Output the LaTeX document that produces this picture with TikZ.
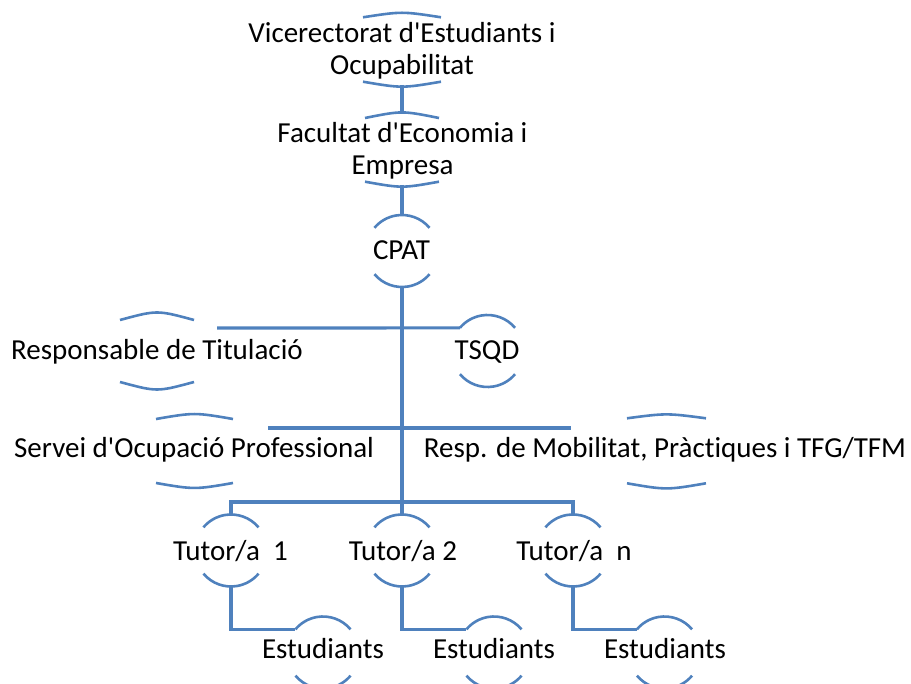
\documentclass[tikz,border=0pt]{standalone}
\usepackage{fontspec}
\setmainfont{Carlito}[Ligatures={TeXOff,NoCommon}]
\usetikzlibrary{calc}
\definecolor{ob}{HTML}{4F81BD}
\tikzset{
  lbl/.style={anchor=base, inner sep=0pt, font=\fontsize{29}{32}\selectfont, align=center},
  arcl/.style={draw=ob, line width=2.6pt},
  conn/.style={draw=ob, line width=3.2pt},
}
% round node outline: top and bottom arcs of a circle of radius 36 around a named coordinate
\newcommand\roundpair[1]{%
  \draw[arcl] (#1) ++(-40:36) arc[start angle=-40,end angle=-140,radius=36];
  \draw[arcl] (#1) ++(140:36) arc[start angle=140,end angle=40,radius=36];}
% flat node outline: cx, half width, top end y, top peak y, bottom end y, bottom peak y
\newcommand\flatpair[6]{%
  \draw[arcl] ({#1-#2},#3) .. controls (#1,{2*#4-#3}) .. ({#1+#2},#3);
  \draw[arcl] ({#1-#2},#5) .. controls (#1,{2*#6-#5}) .. ({#1+#2},#5);}
\begin{document}
\begin{tikzpicture}[x=1pt,y=-1pt]
\useasboundingbox (0,0) rectangle (911,684);
% centres of round nodes
\coordinate (cpatc) at (402,251);
\coordinate (tsqdc) at (487.5,351);
\coordinate (tut1c) at (231,550.5);
\coordinate (tut2c) at (402,550.5);
\coordinate (tutnc) at (573,550.5);
\coordinate (est1c) at (323,652.5);
\coordinate (est2c) at (494,652.5);
\coordinate (est3c) at (664.5,652.5);
% outlines
\flatpair{402}{39}{17.3}{14.3}{81.7}{85}
\flatpair{402}{37}{118}{114.3}{181.7}{185}
\flatpair{157}{37}{320}{315}{382}{387}
\flatpair{194.5}{38.5}{419}{415.7}{483}{486.3}
\flatpair{666.5}{39.5}{418.3}{415.7}{483.3}{486.7}
\roundpair{cpatc}
\roundpair{tsqdc}
\roundpair{tut1c}
\roundpair{tut2c}
\roundpair{tutnc}
\roundpair{est1c}
\roundpair{est2c}
\roundpair{est3c}
% connector end points
\coordinate (viceb) at (402,85);
\coordinate (fact) at (402,114.3);
\coordinate (facb) at (402,185);
\coordinate (cpatt) at ($(cpatc)+(0,-36)$);
\coordinate (cpatb) at ($(cpatc)+(0,36)$);
\coordinate (respr) at (217,328);
\coordinate (tsqdl) at ($(tsqdc)+(-140:36)$);
\coordinate (servr) at (268,428);
\coordinate (mobl) at (571,428);
\coordinate (j3) at (402,502);
\coordinate (tut1t) at ($(tut1c)+(0,-36)$);
\coordinate (tut2t) at ($(tut2c)+(0,-36)$);
\coordinate (tutnt) at ($(tutnc)+(0,-36)$);
\coordinate (tut1b) at ($(tut1c)+(0,36)$);
\coordinate (tut2b) at ($(tut2c)+(0,36)$);
\coordinate (tutnb) at ($(tutnc)+(0,36)$);
\coordinate (est1l) at ($(est1c)+(-140:36)$);
\coordinate (est2l) at ($(est2c)+(-140:36)$);
\coordinate (est3l) at ($(est3c)+(-140:36)$);
% connectors
\draw[conn] (viceb) -- (fact);
\draw[conn] (facb) -- (cpatt);
\draw[conn] (cpatb) -- (j3);
\draw[conn] (respr) -- (tsqdl);
\draw[conn] (servr) -- (mobl);
\draw[conn] (tut1t) |- (j3) -| (tutnt);
\draw[conn] (j3) -- (tut2t);
\draw[conn] (tut1b) |- (est1l);
\draw[conn] (tut2b) |- (est2l);
\draw[conn] (tutnb) |- (est3l);
% texts
\node[lbl] (vice) at (402,75) {Vicerectorat d'Estudiants i\\Ocupabilitat};
\node[lbl] (fac) at (402.5,175) {Facultat d'Economia i\\Empresa};
\node[lbl] (cpat) at (401.5,260) {CPAT};
\node[lbl] (resp) at (157,360) {Responsable de Titulació};
\node[lbl] (tsqd) at (487,360) {TSQD};
\node[lbl] (serv) at (194,458) {Servei d'Ocupació Professional};
\node[lbl] (mob) at (665,458) {Resp. de Mobilitat, Pràctiques i TFG/TFM};
\node[lbl] (t1) at (230.4,560) {Tutor/a\ \ 1};
\node[lbl] (t2) at (403,560) {Tutor/a 2};
\node[lbl] (tn) at (574,560) {Tutor/a\ \ n};
\node[lbl] (e1) at (323,658) {Estudiants};
\node[lbl] (e2) at (494,658) {Estudiants};
\node[lbl] (e3) at (665,658) {Estudiants};
\end{tikzpicture}
\end{document}
